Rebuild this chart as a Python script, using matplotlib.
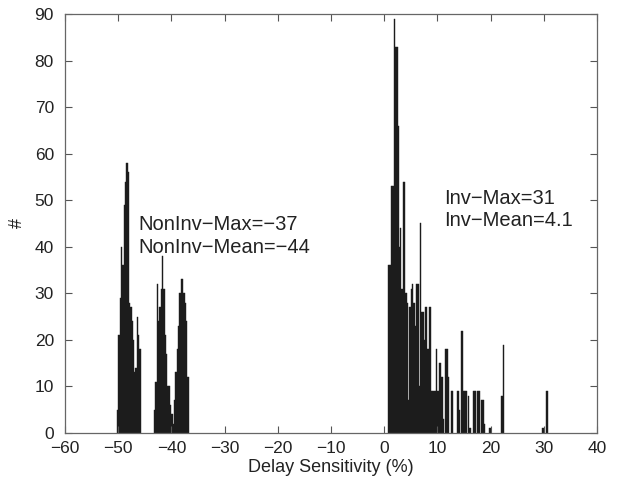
import matplotlib
matplotlib.use("Agg")
import matplotlib.pyplot as plt

# ---- data (bin left edges, counts); bin width 0.25 % ----
noninv_a_x = [-50.25, -50.0, -49.75, -49.5, -49.25, -49.0, -48.75, -48.5, -48.25, -48.0,
              -47.75, -47.5, -47.25, -47.0, -46.75, -46.5, -46.25, -46.0]
noninv_a_n = [5, 21, 29, 40, 36, 49, 54, 58, 56, 28,
              27, 24, 20, 13, 14, 25, 21, 18]

noninv_b_x = [-43.25, -43.0, -42.75, -42.5, -42.25, -42.0, -41.75, -41.5, -41.25, -41.0,
              -40.75, -40.5, -40.25, -40.0]
noninv_b_n = [5, 11, 32, 24, 27, 31, 38, 31, 21, 17,
              10, 10, 6, 4]

noninv_c_x = [-39.75, -39.5, -39.25, -39.0, -38.75, -38.5, -38.25, -38.0, -37.75, -37.5,
              -37.25, -37.0]
noninv_c_n = [2, 7, 13, 18, 23, 30, 33, 33, 30, 28,
              24, 12]

inv_x = [0.75, 1.0, 1.25, 1.5, 1.75, 2.0, 2.25, 2.5, 2.75, 3.0,
         3.25, 3.5, 3.75, 4.0, 4.25, 4.5, 4.75, 5.0, 5.25, 5.5,
         5.75, 6.0, 6.25, 6.5, 6.75, 7.0, 7.25, 7.5, 7.75, 8.0,
         8.25, 8.5, 8.75, 9.0, 9.25, 9.5, 9.75, 10.0, 10.25, 10.5,
         10.75, 11.0, 11.5, 11.75, 12.0, 12.5, 12.75, 13.75, 14.0, 14.5,
         14.75, 15.0, 15.25, 15.75, 16.0, 16.75, 17.0, 17.5, 17.75, 18.25,
         18.5, 18.75, 19.75, 22.0, 22.25, 29.75, 30.5]
inv_n = [36, 36, 53, 53, 89, 83, 83, 66, 40, 44,
         31, 54, 54, 30, 28, 7, 27, 31, 32, 28,
         23, 32, 32, 10, 45, 26, 26, 20, 27, 18,
         18, 27, 9, 9, 9, 9, 18, 9, 15, 15,
         12, 3, 18, 18, 12, 9, 9, 9, 5, 22,
         9, 9, 9, 8, 1, 9, 9, 9, 9, 7,
         7, 2, 1, 8, 19, 1, 9]

bin_width = 0.25

x_ticks = [-60, -50, -40, -30, -20, -10, 0, 10, 20, 30, 40]
y_ticks = [0, 10, 20, 30, 40, 50, 60, 70, 80, 90]

noninv_text = "NonInv\u2212Max=\u221237\nNonInv\u2212Mean=\u221244"
inv_text = "Inv\u2212Max=31\nInv\u2212Mean=4.1"

# ---- plot ----
plt.rcParams['font.family'] = ['Liberation Sans', 'DejaVu Sans']
fig = plt.figure(figsize=(6.18, 4.8), dpi=100)
ax = fig.add_axes([65/618, 1 - 433/480, (597 - 65)/618, (433 - 14)/480])

bar_color = '#1c1c1c'
for xs, ns in [(noninv_a_x, noninv_a_n), (noninv_b_x, noninv_b_n),
               (noninv_c_x, noninv_c_n), (inv_x, inv_n)]:
    ax.bar(xs, ns, width=bin_width, align='edge', color=bar_color,
           edgecolor=bar_color, linewidth=0.3)

ax.set_xlim(-60, 40)
ax.set_ylim(0, 90)
ax.set_xticks(x_ticks)
ax.set_yticks(y_ticks)
ax.set_xticklabels([str(t).replace('-', '\u2212') for t in x_ticks])
ax.set_yticklabels([str(t) for t in y_ticks])
ax.tick_params(direction='in', top=True, right=True, length=5, width=0.8,
               labelsize=12.5, colors='#555555', labelcolor='#222222')
ax.tick_params(axis='x', pad=6)
ax.tick_params(axis='y', pad=8)
for s in ax.spines.values():
    s.set_color('#666666')
    s.set_linewidth(0.9)

ax.set_xlabel("Delay Sensitivity (%)", fontsize=13, color='#222222', labelpad=2)
ax.set_ylabel("#", fontsize=13, color='#222222', labelpad=6)

ax.text(-46.3, 42.3, noninv_text, fontsize=14.5, color='#222222',
        va='center', ha='left', linespacing=1.25)
ax.text(11.2, 48.0, inv_text, fontsize=14.5, color='#222222',
        va='center', ha='left', linespacing=1.25)

fig.savefig("out.png", dpi=100)
